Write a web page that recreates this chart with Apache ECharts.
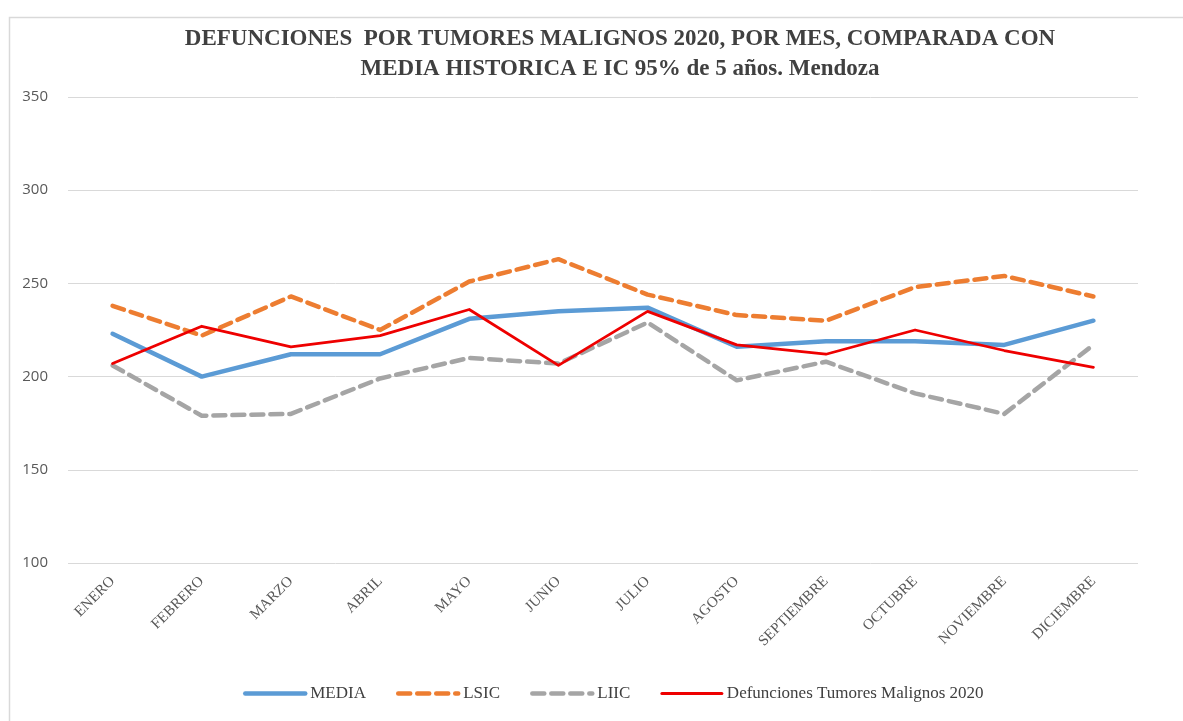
<!DOCTYPE html>
<html>
<head>
<meta charset="utf-8">
<script src="https://cdn.jsdelivr.net/npm/echarts@6/dist/echarts.min.js"></script>
<style>
html,body{margin:0;padding:0;background:#fff;}
#chart{width:1183px;height:721px;}
</style>
</head>
<body>
<div id="chart"></div>
<script>
const months = ['ENERO','FEBRERO','MARZO','ABRIL','MAYO','JUNIO','JULIO','AGOSTO','SEPTIEMBRE','OCTUBRE','NOVIEMBRE','DICIEMBRE'];
const media = [223, 200, 212, 212, 231, 235, 237, 216, 219, 219, 217, 230];
const lsic = [238, 222, 243, 225, 251, 263, 244, 233, 230, 248, 254, 243];
const liic = [206, 179, 180, 199, 210, 207, 229, 198, 208, 191, 180, 217];
const defunciones = [207, 227, 216, 222, 236, 206, 235, 217, 212, 225, 214, 205];
const yTicks = [100, 150, 200, 250, 300, 350];
const seriesNames = ['MEDIA', 'LSIC', 'LIIC', 'Defunciones Tumores Malignos 2020'];
const colors = ['#5b9bd5', '#ed7d31', '#a5a5a5', '#ee0000'];

const chart = echarts.init(document.getElementById('chart'));
const serif = 'Liberation Serif';
const dash = [12, 7];
const legendLines = [
  {width: 4.5, type: 'solid'},
  {width: 4.5, type: dash},
  {width: 4.5, type: dash},
  {width: 3, type: 'solid'}
];
chart.setOption({
  animation: false,
  backgroundColor: '#ffffff',
  graphic: [{
    type: 'rect', left: 7, top: 15, silent: true,
    shape: {width: 1300, height: 900},
    style: {fill: 'none', stroke: '#d9d9d9', lineWidth: 1.5}
  }],
  title: {
    text: 'DEFUNCIONES  POR TUMORES MALIGNOS 2020, POR MES, COMPARADA CON\nMEDIA HISTORICA E IC 95% de 5 años. Mendoza',
    left: 615, top: 19, textAlign: 'center',
    textStyle: {fontFamily: serif, fontWeight: 'bold', fontSize: 23, color: '#404040', lineHeight: 30}
  },
  legend: {
    bottom: 14, left: 238,
    itemWidth: 60, itemHeight: 8, itemGap: 30,
    textStyle: {fontFamily: serif, fontSize: 17, color: '#404040'},
    itemStyle: {opacity: 0},
    data: seriesNames.map((n, i) => ({name: n, lineStyle: {color: colors[i], width: legendLines[i].width, type: legendLines[i].type, cap: 'round'}}))
  },
  grid: {left: 68, right: 45, top: 97, bottom: 158, containLabel: false},
  xAxis: {
    type: 'category', data: months, boundaryGap: true,
    axisLine: {show: false}, axisTick: {show: false},
    axisLabel: {rotate: 45, margin: 16, fontFamily: serif, fontSize: 15, color: '#595959', interval: 0}
  },
  yAxis: {
    type: 'value', min: yTicks[0], max: yTicks[yTicks.length - 1], interval: 50,
    axisLine: {show: false}, axisTick: {show: false},
    axisLabel: {margin: 20, fontFamily: 'Open Sans', fontSize: 15, color: '#595959'},
    splitLine: {lineStyle: {color: '#d9d9d9', width: 1}}
  },
  series: [
    {name: seriesNames[0], type: 'line', data: media, symbol: 'none',
     itemStyle: {color: colors[0]}, lineStyle: {color: colors[0], width: 4.5, join: 'round', cap: 'round'}},
    {name: seriesNames[1], type: 'line', data: lsic, symbol: 'none',
     itemStyle: {color: colors[1]}, lineStyle: {color: colors[1], width: 4.5, type: dash, cap: 'round', join: 'round'}},
    {name: seriesNames[2], type: 'line', data: liic, symbol: 'none',
     itemStyle: {color: colors[2]}, lineStyle: {color: colors[2], width: 4.5, type: dash, cap: 'round', join: 'round'}},
    {name: seriesNames[3], type: 'line', data: defunciones, symbol: 'none',
     itemStyle: {color: colors[3]}, lineStyle: {color: colors[3], width: 2.8, join: 'round', cap: 'round'}}
  ]
});
</script>
</body>
</html>
